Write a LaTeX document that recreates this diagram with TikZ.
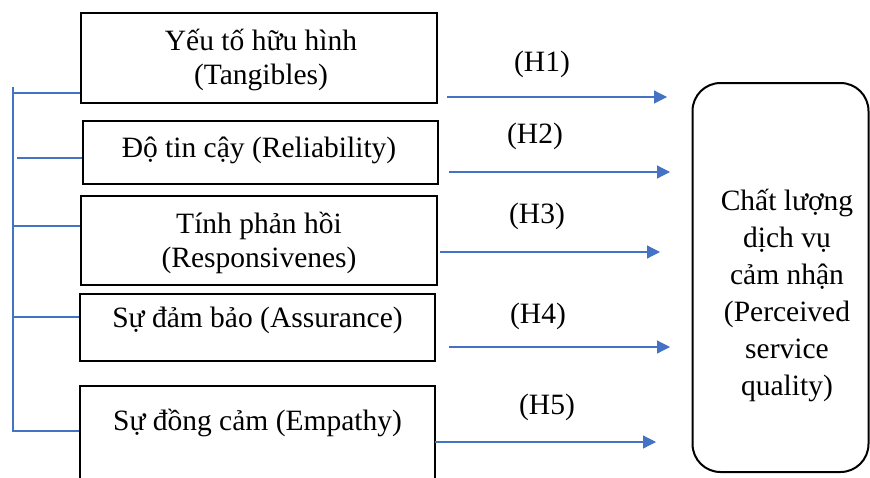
\documentclass[tikz,border=0pt]{standalone}
\usepackage{fontspec}
\setmainfont{Liberation Serif}
\usetikzlibrary{arrows.meta}
\definecolor{lineblue}{HTML}{4472C4}
\begin{document}
\begin{tikzpicture}[x=1pt,y=-1pt,
  factor/.style={draw=black, line width=2pt, inner sep=0pt},
  txt/.style={font=\fontsize{29.5}{34}\selectfont, align=center, inner sep=0pt},
  hlab/.style={font=\fontsize{29.5}{34}\selectfont, inner sep=0pt},
  arr/.style={draw=lineblue, line width=1.2pt, -{Triangle[length=13pt,width=13pt]}},
  branch/.style={draw=lineblue, line width=1.2pt}]
\useasboundingbox (0,0) rectangle (870,477);
\clip (0,0) rectangle (870,477);
\fill[white] (0,0) rectangle (870,477);
% factor boxes
\node[factor, minimum width=356pt, minimum height=90pt] (b1) at (259,58) {};
\node[txt] (t1) at (261,60) {Yếu tố hữu hình\\(Tangibles)};
\node[factor, minimum width=355pt, minimum height=63pt] (b2) at (260.5,152.5) {};
\node[txt] (t2) at (259,150) {Độ tin cậy (Reliability)};
\node[factor, minimum width=356pt, minimum height=89pt] (b3) at (259,240.5) {};
\node[txt] (t3) at (259,243) {Tính phản hồi\\(Responsivenes)};
\node[factor, minimum width=355pt, minimum height=67pt] (b4) at (257.5,327.5) {};
\node[txt] (t4) at (257.5,320) {Sự đảm bảo (Assurance)};
\node[factor, minimum width=355pt, minimum height=130pt] (b5) at (257.5,451) {};
\node[txt] (t5) at (257.5,423) {Sự đồng cảm (Empathy)};
% outcome box
\node[draw=black, line width=2pt, rounded corners=28pt, minimum width=176pt, minimum height=389pt] (q) at (780.5,277.5) {};
\node[txt, font=\fontsize{29.5}{37}\selectfont] (qt) at (787,295) {Chất lượng\\dịch vụ\\cảm nhận\\(Perceived\\service\\quality)};
% left bracket
\coordinate (vtop) at (13,87);
\coordinate (vbot) at (13,432);
\draw[branch] (vtop) -- (vbot);
\coordinate (c1) at (13,93);
\coordinate (c2) at (17,158);
\coordinate (c3) at (13,226);
\coordinate (c4) at (13,317);
\coordinate (c5) at (13,431);
\draw[branch] (c1) -- (c1 -| b1.west);
\draw[branch] (c2) -- (c2 -| b2.west);
\draw[branch] (c3) -- (c3 -| b3.west);
\draw[branch] (c4) -- (c4 -| b4.west);
\draw[branch] (c5) -- (c5 -| b5.west);
% arrows
\coordinate (s1) at (447,97);  \coordinate (e1) at (667,97);
\coordinate (s2) at (449,172); \coordinate (e2) at (670,172);
\coordinate (s3) at (440,252); \coordinate (e3) at (660,252);
\coordinate (s4) at (449,347); \coordinate (e4) at (670,347);
\coordinate (s5) at (435,442); \coordinate (e5) at (656,442);
\draw[arr] (s1) -- (e1);
\draw[arr] (s2) -- (e2);
\draw[arr] (s3) -- (e3);
\draw[arr] (s4) -- (e4);
\draw[arr] (s5) -- (e5);
% hypothesis labels
\node[hlab] (h1) at (542,64) {(H1)};
\node[hlab] (h2) at (535,136) {(H2)};
\node[hlab] (h3) at (537,216) {(H3)};
\node[hlab] (h4) at (538,316) {(H4)};
\node[hlab] (h5) at (547,407) {(H5)};
\end{tikzpicture}
\end{document}
